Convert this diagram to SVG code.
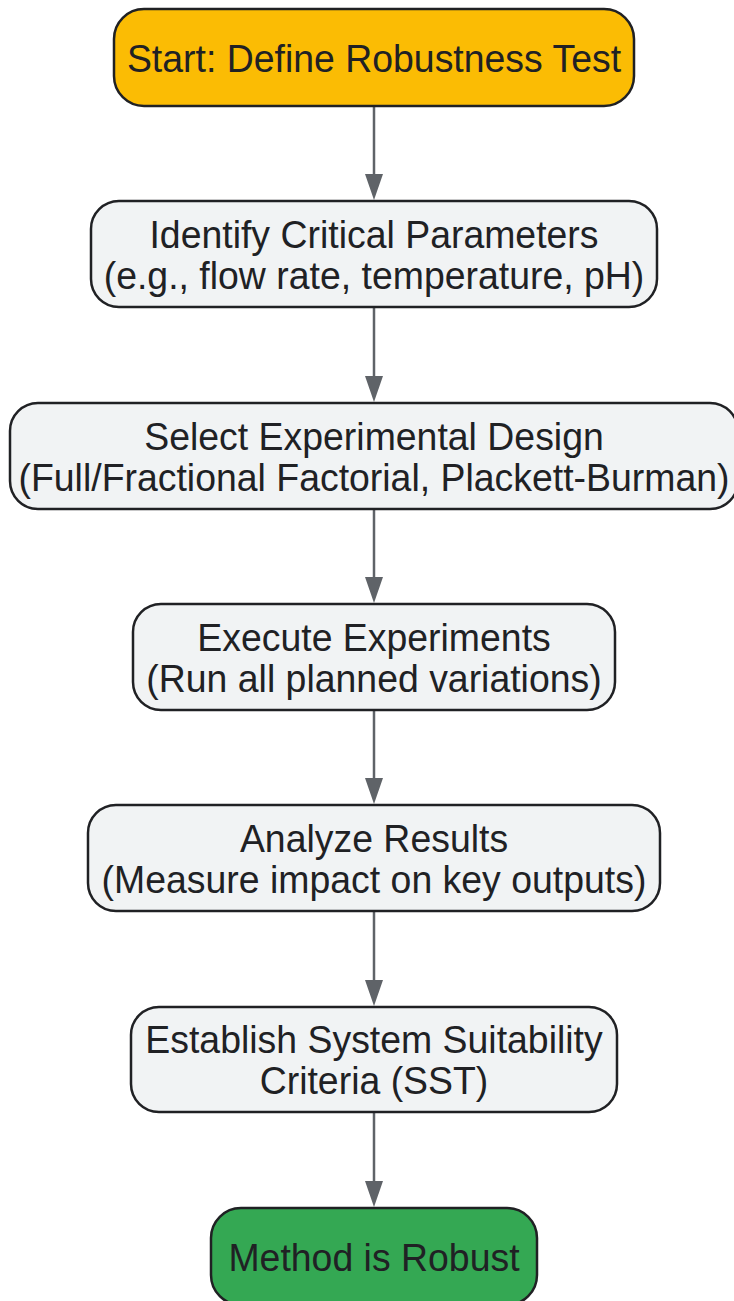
<svg xmlns="http://www.w3.org/2000/svg" width="734" height="1301" viewBox="0 0 734 1301">
<defs>
<style>
.n{stroke:#202124;stroke-width:2.5}
.g{fill:#f1f3f4}
.y{fill:#fbbc04}
.gr{fill:#34a853}
.t{font-family:"Liberation Sans",Arial,sans-serif;font-size:38.5px;fill:#202124;text-anchor:middle}
.e{stroke:#5f6368;stroke-width:2.5;fill:none}
.h{fill:#5f6368}
</style>
</defs>
<rect width="734" height="1301" fill="#ffffff"/>
<g id="edges">
<path class="e" d="M374,106 V175"/><path class="h" d="M365,174 L383,174 L374,200 Z"/>
<path class="e" d="M374,307 V377"/><path class="h" d="M365,376 L383,376 L374,402 Z"/>
<path class="e" d="M374,509 V578"/><path class="h" d="M365,577 L383,577 L374,603 Z"/>
<path class="e" d="M374,710 V779"/><path class="h" d="M365,778 L383,778 L374,804 Z"/>
<path class="e" d="M374,911 V981"/><path class="h" d="M365,980 L383,980 L374,1006 Z"/>
<path class="e" d="M374,1112 V1182"/><path class="h" d="M365,1181 L383,1181 L374,1207 Z"/>
</g>
<g id="start">
<rect class="n y" x="114" y="9" width="520" height="97" rx="30"/>
<text class="t" transform="translate(374 72) scale(0.972 1)">Start: Define Robustness Test</text>
</g>
<g id="identify">
<rect class="n g" x="91" y="201" width="566" height="106" rx="28"/>
<text class="t" transform="translate(374 248) scale(0.972 1)">Identify Critical Parameters</text>
<text class="t" transform="translate(374 289) scale(0.972 1)">(e.g., flow rate, temperature, pH)</text>
</g>
<g id="select">
<rect class="n g" x="10" y="403" width="728" height="106" rx="28"/>
<text class="t" transform="translate(374 450) scale(0.972 1)">Select Experimental Design</text>
<text class="t" transform="translate(374 491) scale(0.972 1)">(Full/Fractional Factorial, Plackett-Burman)</text>
</g>
<g id="execute">
<rect class="n g" x="133" y="604" width="482" height="106" rx="28"/>
<text class="t" transform="translate(374 651) scale(0.972 1)">Execute Experiments</text>
<text class="t" transform="translate(374 692) scale(0.972 1)">(Run all planned variations)</text>
</g>
<g id="analyze">
<rect class="n g" x="88" y="805" width="572" height="106" rx="28"/>
<text class="t" transform="translate(374 852) scale(0.972 1)">Analyze Results</text>
<text class="t" transform="translate(374 893) scale(0.972 1)">(Measure impact on key outputs)</text>
</g>
<g id="establish">
<rect class="n g" x="131" y="1007" width="486" height="105" rx="28"/>
<text class="t" transform="translate(374 1053) scale(0.972 1)">Establish System Suitability</text>
<text class="t" transform="translate(374 1094) scale(0.972 1)">Criteria (SST)</text>
</g>
<g id="robust">
<rect class="n gr" x="211" y="1208" width="326" height="97" rx="30"/>
<text class="t" transform="translate(374 1271) scale(0.972 1)">Method is Robust</text>
</g>
</svg>
